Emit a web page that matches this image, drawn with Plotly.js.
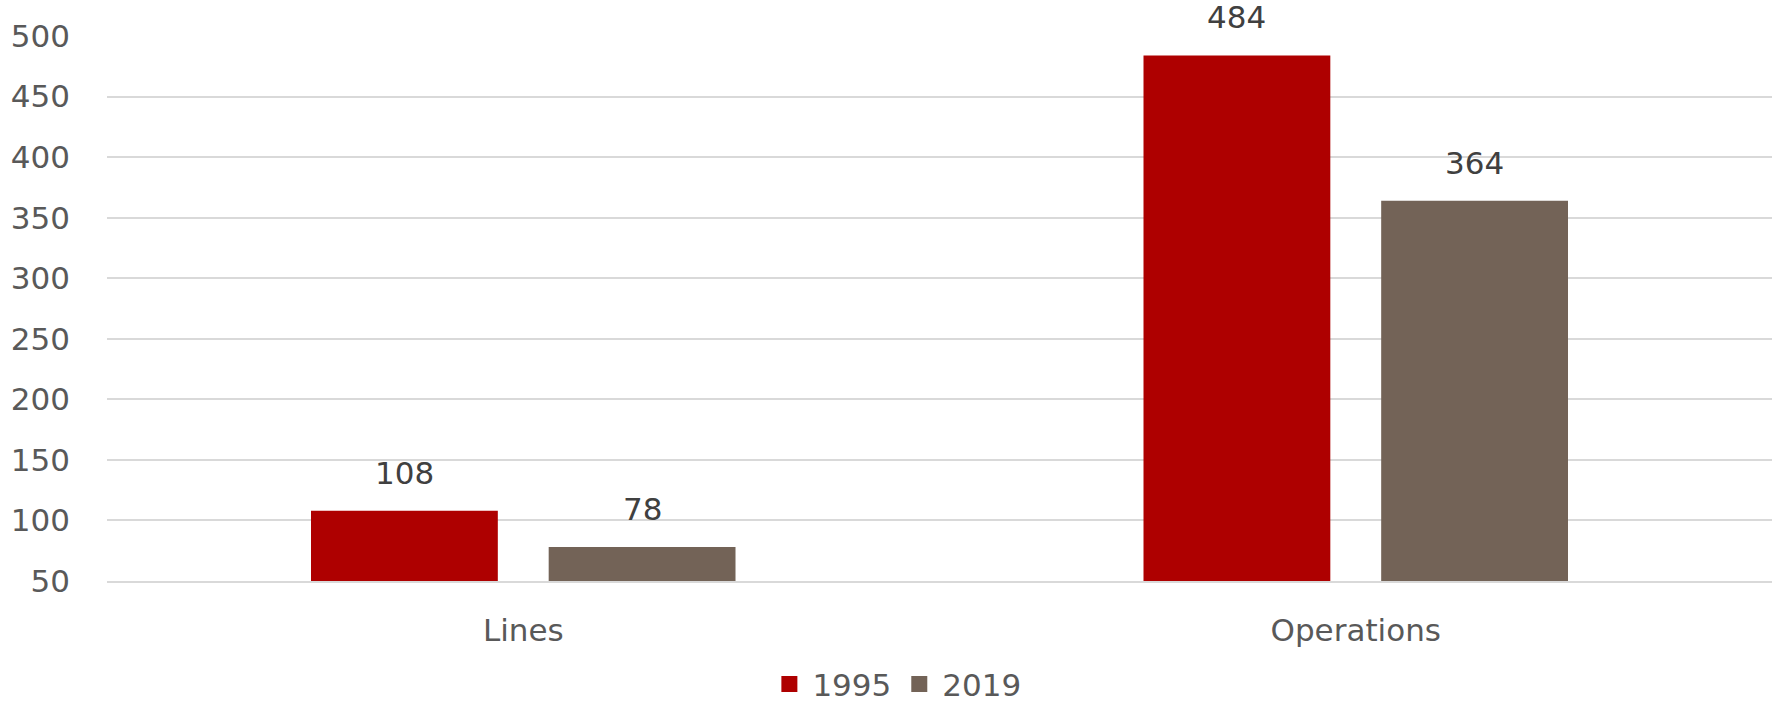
<!DOCTYPE html>
<html>
<head>
<meta charset="utf-8">
<script src="https://cdn.plot.ly/plotly-3.0.1.min.js"></script>
<style>
html,body{margin:0;padding:0;background:#fff;}
#chart{width:1775px;height:717px;}
</style>
</head>
<body>
<div id="chart"></div>
<script>
var categories = ["Lines", "Operations"];
var seriesNames = ["1995", "2019"];
var values1995 = [108, 484];
var values2019 = [78, 364];
var yTicks = [50, 100, 150, 200, 250, 300, 350, 400, 450, 500];

var colors = ["#AE0000", "#736357"];
var FONT = "DejaVu Sans";
var FS = 31;
var bargap = 0.429;
var bargroupgap = 0.214;

var series = [values1995, values2019];
var traces = series.map(function (vals, s) {
  return {
    type: "bar",
    name: seriesNames[s],
    x: categories,
    y: vals,
    marker: { color: colors[s] },
    hoverinfo: "skip",
    showlegend: false
  };
});

// legend entries with larger square swatches (no data drawn)
seriesNames.forEach(function (name, s) {
  traces.push({
    type: "scatter",
    mode: "markers",
    name: name,
    x: [null],
    y: [null],
    marker: { color: colors[s], symbol: "square", size: 22 },
    hoverinfo: "skip",
    showlegend: true
  });
});

// data labels above bars
var half = (1 - bargap) / 4; // center offset of each bar in category units
var annotations = [];
series.forEach(function (vals, s) {
  vals.forEach(function (v, i) {
    annotations.push({
      x: i + (s === 0 ? -half : half),
      y: v,
      xref: "x",
      yref: "y",
      text: String(v),
      showarrow: false,
      yanchor: "bottom",
      yshift: 18,
      font: { family: FONT, size: FS, color: "#404040" }
    });
  });
});

var layout = {
  width: 1775,
  height: 717,
  margin: { l: 107, r: 3, t: 36, b: 136 },
  paper_bgcolor: "#ffffff",
  plot_bgcolor: "#ffffff",
  barmode: "group",
  bargap: bargap,
  bargroupgap: bargroupgap,
  showlegend: true,
  legend: {
    orientation: "h",
    x: 0.505,
    xref: "container",
    xanchor: "center",
    y: 0.008,
    yref: "container",
    yanchor: "bottom",
    font: { family: FONT, size: FS, color: "#595959" },
    itemsizing: "trace",
    itemwidth: 36,
    tracegroupgap: 0
  },
  xaxis: {
    type: "category",
    showgrid: false,
    showline: true,
    linecolor: "#d9d9d9",
    linewidth: 2,
    ticks: "",
    ticklabelstandoff: 21,
    tickfont: { family: FONT, size: FS, color: "#595959" },
    fixedrange: true
  },
  yaxis: {
    range: [50, 500],
    tickmode: "array",
    tickvals: yTicks,
    ticktext: yTicks.map(String),
    showgrid: true,
    gridcolor: "#d9d9d9",
    gridwidth: 2,
    zeroline: false,
    showline: false,
    ticks: "",
    ticklabelstandoff: 36,
    tickfont: { family: FONT, size: FS, color: "#595959" },
    fixedrange: true
  },
  annotations: annotations
};

Plotly.newPlot("chart", traces, layout, { displayModeBar: false, staticPlot: true });
</script>
</body>
</html>
